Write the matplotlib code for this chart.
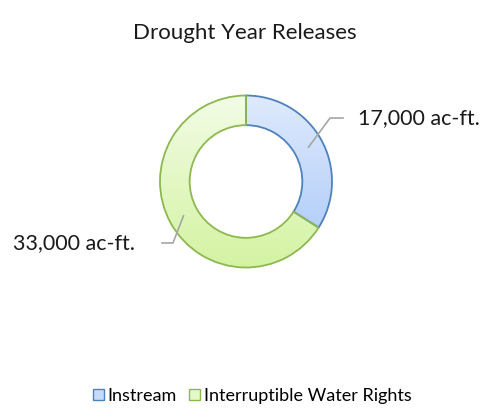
import matplotlib
matplotlib.use("Agg")
import matplotlib.pyplot as plt
import numpy as np
from matplotlib.patches import Patch

plt.rcParams["font.family"] = ["Lato", "DejaVu Sans"]

title = "Drought Year Releases"
categories = ["Instream", "Interruptible Water Rights"]
values = [17000, 33000]
value_labels = ["17,000 ac-ft.", "33,000 ac-ft."]

grad_top = ["#dfeafc", "#f2fce6"]
grad_bottom = ["#a8c8f8", "#d4f3a2"]
edges = ["#4f81bd", "#8db850"]
legend_faces = ["#c6dafa", "#e4f8c8"]

W, H = 487, 417
fig = plt.figure(figsize=(W / 100, H / 100), dpi=100)
fig.patch.set_facecolor("white")

cx, cy, rad = 246, 181.5, 86
ax = fig.add_axes([(cx - rad) / W, (H - cy - rad) / H, 2 * rad / W, 2 * rad / H])
wedges, _ = ax.pie(values, startangle=90, counterclock=False, radius=1.0,
                   wedgeprops=dict(width=0.345, linewidth=1.3, edgecolor="none",
                                   facecolor="none"))
ax.set_xlim(-1, 1)
ax.set_ylim(-1, 1)
ax.set_aspect("equal")
ax.axis("off")

for i, w in enumerate(wedges):
    c0 = np.array(matplotlib.colors.to_rgb(grad_top[i]))
    c1 = np.array(matplotlib.colors.to_rgb(grad_bottom[i]))
    t = np.linspace(0, 1, 256)[:, None]
    img = (c0 * (1 - t) + c1 * t)[:, None, :]
    im = ax.imshow(img, extent=(-1, 1, -1, 1), origin="upper", aspect="auto",
                   zorder=1)
    im.set_clip_path(w)
    w.set_edgecolor(edges[i])
    w.set_zorder(2)

# leader lines and labels
label_specs = [
    dict(bend=(0.977, 0.738), end=(1.128, 0.738), text=(1.30, 0.738), ha="left"),
    dict(bend=(-0.849, -0.715), end=(-0.977, -0.715), text=(-1.29, -0.715), ha="right"),
]
for i, w in enumerate(wedges):
    mid = np.deg2rad((w.theta1 + w.theta2) / 2)
    r = 0.83
    sx, sy = r * np.cos(mid), r * np.sin(mid)
    spec = label_specs[i]
    ax.plot([sx, spec["bend"][0], spec["end"][0]],
            [sy, spec["bend"][1], spec["end"][1]],
            color="#a6a6a6", linewidth=1.2, clip_on=False, zorder=3)
    ax.text(spec["text"][0], spec["text"][1], value_labels[i], ha=spec["ha"],
            va="center", fontsize=15.5, color="#1a1a1a", clip_on=False)

fig.text(245 / W, 1 - 33 / H, title, ha="center", va="center", fontsize=16,
         color="#1a1a1a")

handles = [Patch(facecolor=legend_faces[i], edgecolor=edges[i], linewidth=1.0)
           for i in range(len(categories))]
fig.legend(handles, categories, loc="center", bbox_to_anchor=(252 / W, 1 - 396 / H),
           ncol=2, frameon=False, fontsize=13, handlelength=0.6,
           handleheight=0.6, handletextpad=0.2, columnspacing=0.7)

fig.savefig("out.png", dpi=100, facecolor="white")
